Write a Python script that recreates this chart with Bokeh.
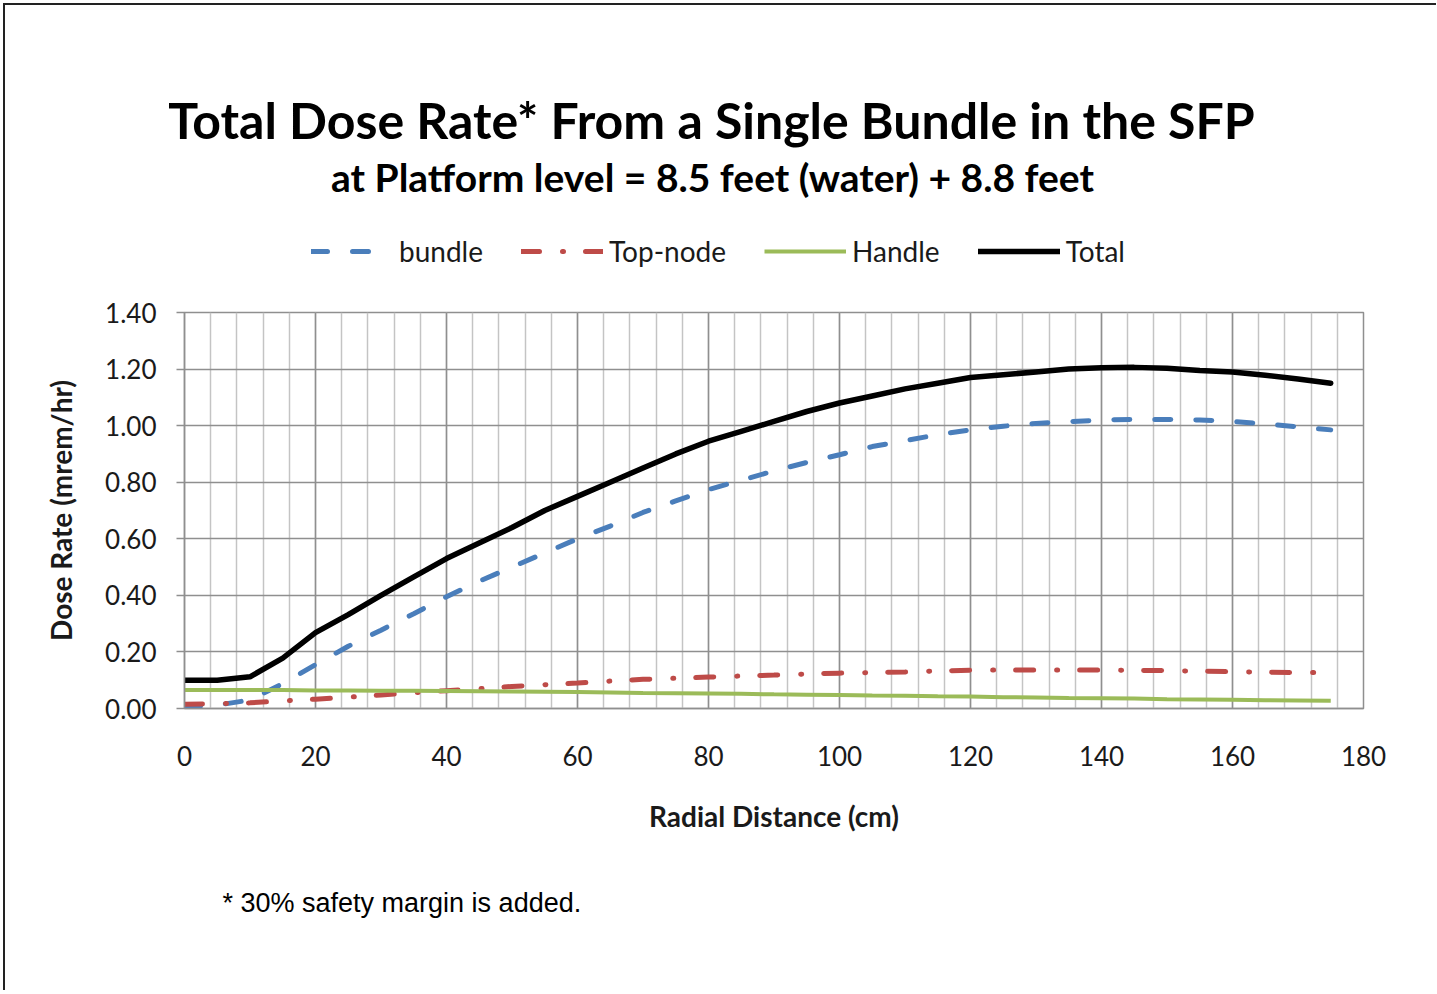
import numpy as np
from bokeh.plotting import figure
from bokeh.layouts import column
from bokeh.models import (Legend, LegendItem, Title, Label, FixedTicker, PrintfTickFormatter,
                          Range1d, Plot)
from bokeh.embed import file_html
from bokeh.resources import INLINE

# ---------------- data ----------------
radial_cm = [0, 5, 10, 15, 20, 25, 30, 35, 40, 45, 50, 55, 60, 65, 70, 75, 80, 85,
             90, 95, 100, 105, 110, 115, 120, 125, 130, 135, 140, 145, 150, 155, 160, 165, 170, 175]

bundle = [0.005, 0.012, 0.030, 0.088, 0.155, 0.220, 0.277, 0.335, 0.395, 0.450, 0.500, 0.550,
          0.600, 0.645, 0.693, 0.734, 0.774, 0.807, 0.840, 0.870, 0.897, 0.926, 0.947, 0.968,
          0.985, 0.998, 1.008, 1.014, 1.020, 1.022, 1.022, 1.020, 1.015, 1.006, 0.996, 0.985]

top_node = [0.015, 0.017, 0.020, 0.027, 0.033, 0.040, 0.048, 0.056, 0.063, 0.070, 0.078, 0.084,
            0.090, 0.097, 0.103, 0.107, 0.111, 0.115, 0.118, 0.122, 0.125, 0.127, 0.129, 0.133,
            0.135, 0.136, 0.136, 0.136, 0.136, 0.135, 0.134, 0.132, 0.130, 0.128, 0.127, 0.127]

handle = [0.065, 0.065, 0.065, 0.065, 0.064, 0.064, 0.063, 0.063, 0.062, 0.061, 0.060, 0.059,
          0.058, 0.057, 0.055, 0.054, 0.053, 0.052, 0.050, 0.049, 0.048, 0.046, 0.045, 0.043,
          0.042, 0.040, 0.039, 0.037, 0.036, 0.035, 0.033, 0.032, 0.031, 0.029, 0.028, 0.027]

total = [0.100, 0.100, 0.112, 0.178, 0.268, 0.332, 0.400, 0.465, 0.530, 0.585, 0.640, 0.700,
         0.750, 0.800, 0.850, 0.900, 0.945, 0.980, 1.015, 1.050, 1.080, 1.105, 1.130, 1.150,
         1.170, 1.180, 1.190, 1.200, 1.205, 1.206, 1.203, 1.195, 1.190, 1.178, 1.165, 1.150]

x_ticks = [0, 20, 40, 60, 80, 100, 120, 140, 160, 180]
x_minor_ticks = [0, 4, 8, 12, 16, 20, 24, 28, 32, 36, 40, 44, 48, 52, 56, 60, 64, 68, 72, 76, 80,
                 84, 88, 92, 96, 100, 104, 108, 112, 116, 120, 124, 128, 132, 136, 140, 144, 148,
                 152, 156, 160, 164, 168, 172, 176, 180]
y_ticks = [0.0, 0.2, 0.4, 0.6, 0.8, 1.0, 1.2, 1.4]

title_text = "Total Dose Rate* From a Single Bundle in the SFP"
subtitle_text = "at Platform level = 8.5 feet (water) + 8.8 feet"
footnote_text = "*  30% safety margin is added."
series_names = ["bundle", "Top-node", "Handle", "Total"]

# ---------------- styles ----------------
FONT = "Lato"
TXT = "#1a1a1a"
GRID = "#8f8f8f"
MINOR = "#c4c4c4"
STYLES = [dict(line_color="#4a7ebb", line_width=5, line_dash="16 25", line_cap="round"),
          dict(line_color="#be4b48", line_width=5, line_dash="18 23 1 22", line_cap="round"),
          dict(line_color="#9bbb59", line_width=4),
          dict(line_color="#000000", line_width=5.5, line_cap="round")]

W = 1431
HEAD_H = 280
MAIN_H = 705
CAN_ALIGN = "frame_align" in Plot.properties()

# ---------------- header: titles + legend ----------------
head = figure(width=W, height=HEAD_H, title=None,
              x_range=Range1d(0, W), y_range=Range1d(0, HEAD_H),
              x_axis_type=None, y_axis_type=None, output_backend="svg", toolbar_location=None,
              min_border_left=0, min_border_right=0, min_border_top=0, min_border_bottom=0,
              background_fill_color="white", border_fill_color="white")
head.outline_line_color = None
if CAN_ALIGN:
    head.frame_align = False

# screen units: x from the header's left edge, y up from its bottom edge
head.add_layout(Label(x=706, y=166, x_units="screen", y_units="screen", text=title_text,
                      text_font=FONT, text_font_style="bold",
                      text_font_size="50px", text_color="#000000",
                      text_align="center", text_baseline="alphabetic"))
head.add_layout(Label(x=707, y=109, x_units="screen", y_units="screen", text=subtitle_text,
                      text_font=FONT, text_font_style="bold",
                      text_font_size="39px", text_color="#000000",
                      text_align="center", text_baseline="alphabetic"))

# legend swatches: style carriers without visible data
proxies = [head.line(x=[np.nan], y=[np.nan], **st) for st in STYLES]
legend = Legend(items=[LegendItem(label=n, renderers=[r]) for n, r in zip(series_names, proxies)],
                orientation="horizontal", location=(306, 17),
                glyph_width=82, glyph_height=20, label_height=20, label_standoff=6,
                spacing=38, padding=0, margin=0,
                border_line_color=None, background_fill_alpha=0,
                label_text_font=FONT, label_text_font_size="28px", label_text_color=TXT)
head.add_layout(legend)

# ---------------- main plot ----------------
p = figure(width=W, height=MAIN_H, title=None,
           x_range=Range1d(0, 180), y_range=Range1d(0, 1.4),
           output_backend="svg", toolbar_location=None,
           min_border_left=179, min_border_right=73,
           min_border_top=27, min_border_bottom=282,
           background_fill_color="white", border_fill_color="white")
if CAN_ALIGN:
    p.frame_align = False

p.outline_line_color = GRID
p.outline_line_width = 1.5

p.xaxis.ticker = FixedTicker(ticks=x_ticks, minor_ticks=x_minor_ticks)
p.yaxis.ticker = FixedTicker(ticks=y_ticks)
p.yaxis.formatter = PrintfTickFormatter(format="%.2f")

for ax in (p.xaxis, p.yaxis):
    ax.axis_line_color = GRID
    ax.axis_line_width = 1.5
    ax.minor_tick_line_color = None
    ax.major_label_text_font = FONT
    ax.major_label_text_font_size = "26px"
    ax.major_label_text_color = TXT
    ax.axis_label_text_font = FONT
    ax.axis_label_text_font_style = "bold"
    ax.axis_label_text_font_size = "28px"
    ax.axis_label_text_color = TXT

p.xaxis.major_tick_line_color = None
p.xaxis.major_tick_out = 0
p.xaxis.major_tick_in = 0
p.xaxis.major_label_standoff = 33
p.xaxis.axis_label = "Radial Distance (cm)"
p.xaxis.axis_label_standoff = 30

p.yaxis.major_tick_line_color = GRID
p.yaxis.major_tick_line_width = 1.5
p.yaxis.major_tick_out = 8
p.yaxis.major_tick_in = 0
p.yaxis.major_label_standoff = 20
p.yaxis.axis_label = "Dose Rate (mrem/hr)"
p.yaxis.axis_label_standoff = 24

p.xgrid.grid_line_color = GRID
p.xgrid.grid_line_width = 1.5
p.xgrid.minor_grid_line_color = MINOR
p.xgrid.minor_grid_line_width = 1.5
p.ygrid.grid_line_color = GRID
p.ygrid.grid_line_width = 1.5

for ys, st in zip([bundle, top_node, handle, total], STYLES):
    p.line(radial_cm, ys, **st)

foot = Title(text=footnote_text, align="left", offset=38, standoff=100,
             text_font="Liberation Sans", text_font_style="normal", text_font_size="27px",
             text_color="#000000")
p.add_layout(foot, "below")

page = column(head, p, spacing=0,
              styles={"border-left": "2px solid #222222", "border-top": "2px solid #222222",
                      "margin-left": "3px", "margin-top": "3px"})

open("out.html", "w").write(file_html(page, INLINE))
